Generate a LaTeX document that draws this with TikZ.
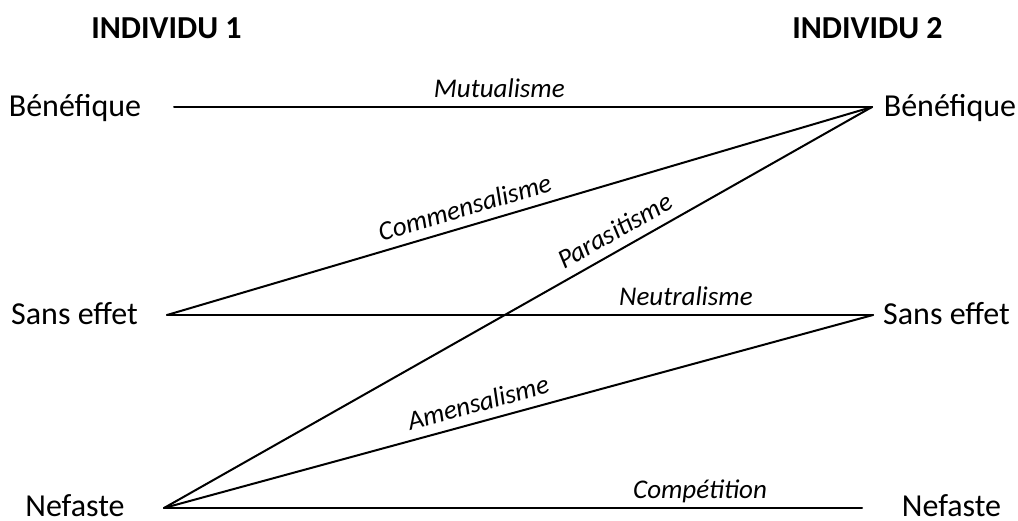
\documentclass[tikz,border=0pt]{standalone}
\usepackage{fontspec}
\setmainfont{Carlito}
\begin{document}
\begin{tikzpicture}[x=1pt,y=-1pt,
  head/.style={font=\fontsize{32}{36}\selectfont\bfseries, anchor=base, inner sep=0pt},
  level/.style={font=\fontsize{32}{36}\selectfont, anchor=base, inner sep=0pt},
  rel/.style={font=\fontsize{27}{30}\selectfont\itshape, text depth=0pt, inner sep=0pt, above=9pt},
  link/.style={line width=2pt, line cap=round, line join=miter}]
\useasboundingbox (0,0) rectangle (1018,520);
% headers
\node[head] (h1) at (166.5,38) {INDIVIDU 1};
\node[head] (h2) at (867.5,38) {INDIVIDU 2};
% level labels
\node[level] (lb) at (75,116) {Bénéfique};
\node[level] (ls) at (74.5,324) {Sans effet};
\node[level] (ln) at (75,516) {Nefaste};
\node[level] (rb) at (950,116) {Bénéfique};
\node[level] (rs) at (946.5,324) {Sans effet};
\node[level] (rn) at (951.5,516) {Nefaste};
% line endpoints
\coordinate (b1) at (174,107);
\coordinate (s1) at (167,315);
\coordinate (n1) at (164,508);
\coordinate (b2) at (872,107);
\coordinate (s2) at (873,315);
\coordinate (n2) at (862,508);
% connectors
\draw[link] (b1) -- node[rel, pos=0.466] (mu) {Mutualisme} (b2);
\draw[link] (s1) -- node[rel, sloped, pos=0.43] (co) {Commensalisme} (b2);
\draw[link] (n1) -- node[rel, sloped, pos=0.65] (pa) {Parasitisme} (b2);
\draw[link] (s1) -- node[rel, pos=0.735] (ne) {Neutralisme} (s2);
\draw[link] (n1) -- node[rel, sloped, pos=0.45] (am) {Amensalisme} (s2);
\draw[link] (n1) -- node[rel, pos=0.768] (cp) {Compétition} (n2);
\end{tikzpicture}
\end{document}
